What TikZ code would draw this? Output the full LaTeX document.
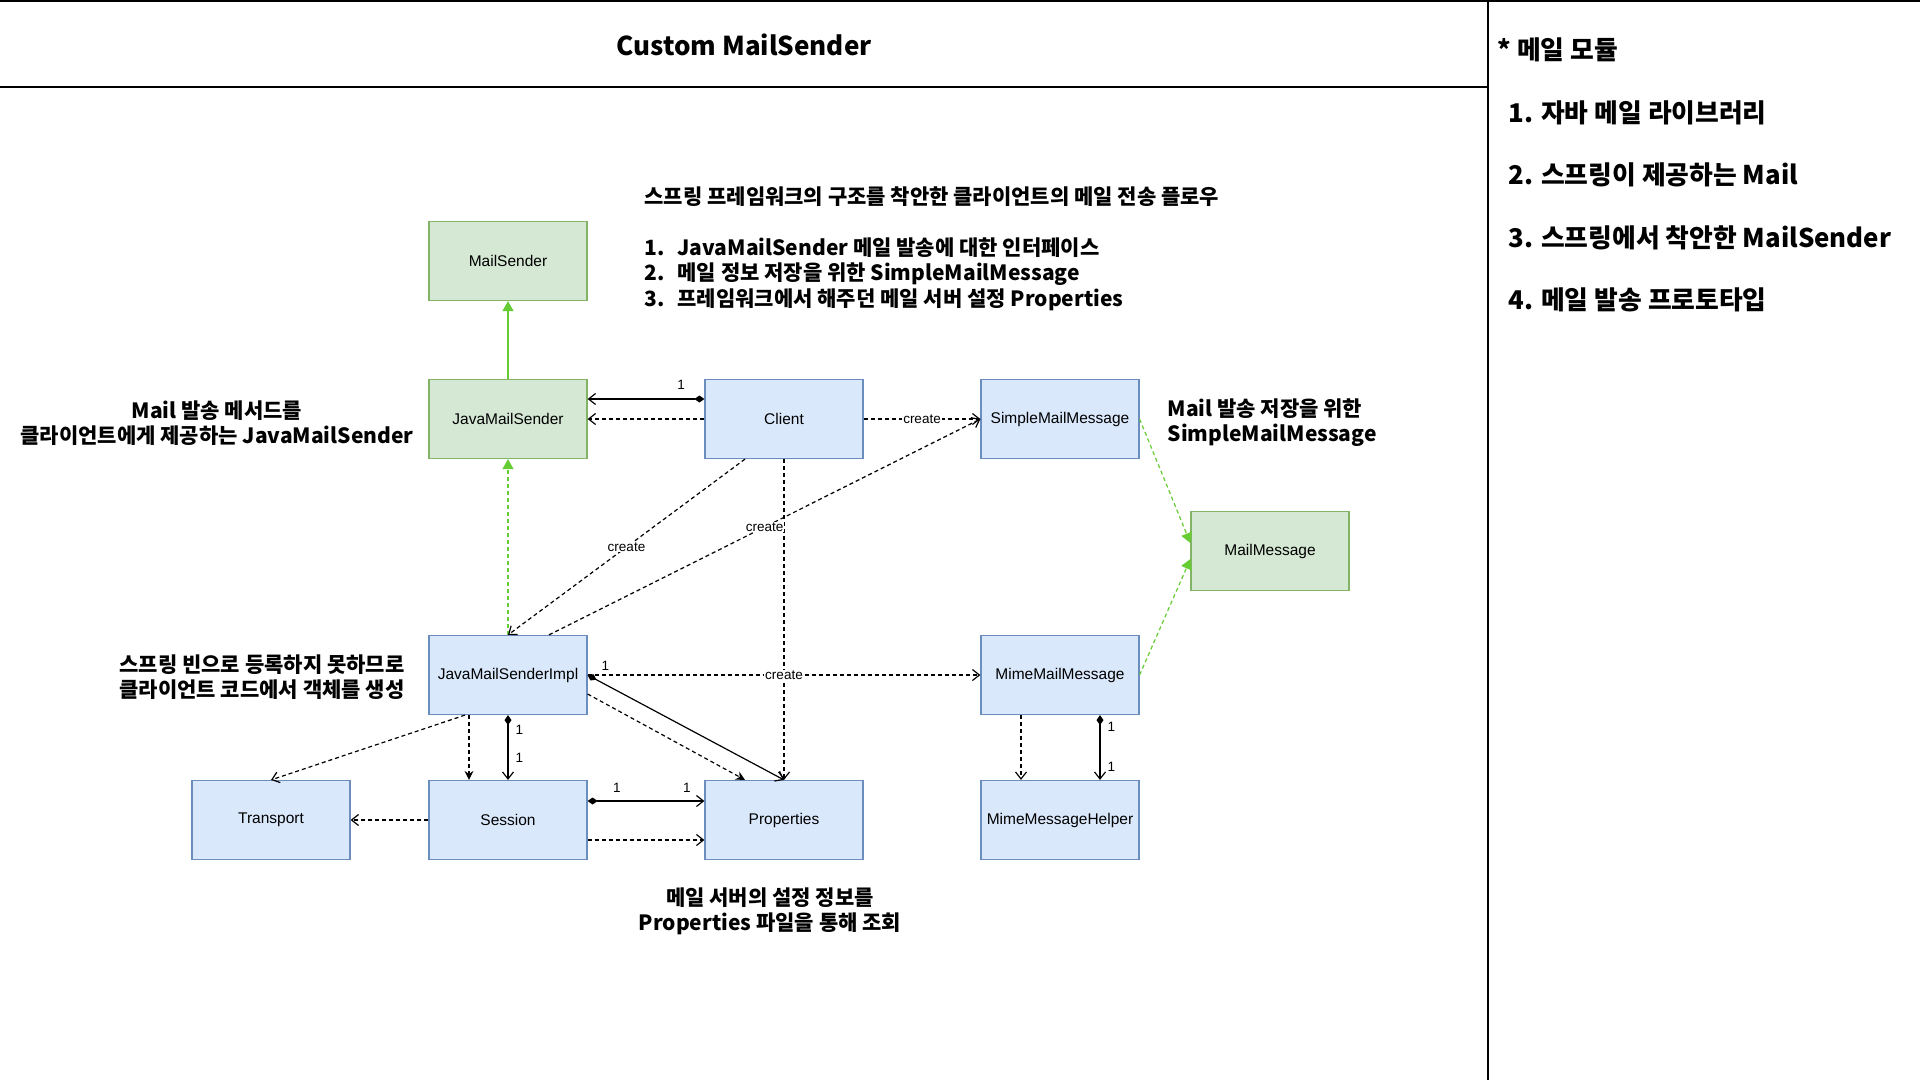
\documentclass[tikz,border=0pt]{standalone}
\usepackage{fontspec}
\setmainfont{Liberation Sans}
\newfontfamily\kofont{Noto Sans CJK KR}
\usepackage{tikz}
\usetikzlibrary{arrows.meta,positioning}

\definecolor{blueFill}{HTML}{DAE8FC}
\definecolor{blueLine}{HTML}{6C8EBF}
\definecolor{greenFill}{HTML}{D5E8D4}
\definecolor{greenLine}{HTML}{82B366}
\definecolor{realize}{HTML}{66CC33}

\begin{document}
\begin{tikzpicture}[x=1pt,y=-1pt,line width=1.2pt,
  cls/.style={minimum width=158pt,minimum height=79pt,inner sep=0pt,line width=1.2pt,
    font=\fontsize{15.5}{18}\selectfont},
  blue cls/.style={cls,fill=blueFill,draw=blueLine},
  green cls/.style={cls,fill=greenFill,draw=greenLine},
  note/.style={font=\kofont\bfseries\fontsize{21}{25}\selectfont,align=center,inner sep=0pt},
  panel/.style={font=\kofont\bfseries\fontsize{25.8}{30}\selectfont,anchor=west,inner sep=0pt},
  lbl/.style={font=\fontsize{13.5}{16}\selectfont,inner sep=1pt},
  dep/.style={dash pattern=on 4pt off 3pt,-{Straight Barb[length=7pt,width=11pt]}},
  depfill/.style={dash pattern=on 4pt off 3pt,-{Stealth[length=9pt,width=9pt]}},
  assoc/.style={{Diamond[length=10pt,width=7pt]}-{Straight Barb[length=7pt,width=11pt]}},
  inherit/.style={draw=realize,-{Triangle[length=10pt,width=11pt]}},
  realizes/.style={inherit,dash pattern=on 4pt off 3pt}]

  \useasboundingbox (0,0) rectangle (1920,1080);

  % frame
  \draw[line width=2pt] (0,1) -- (1920,1);
  \draw[line width=1.5pt] (0,87) -- (1488,87);
  \draw[line width=1.5pt] (1488,0) -- (1488,1080);

  \node[font=\kofont\bfseries\fontsize{26}{30}\selectfont] (title) at (744,45) {Custom MailSender};

  % right panel = mail modules
  \node[panel] (modules) at (1497,50) {* 메일 모듈};
  \node[panel] (mod1) at (1508,113) {1. 자바 메일 라이브러리};
  \node[panel] (mod2) at (1508,175) {2. 스프링이 제공하는 Mail};
  \node[panel] (mod3) at (1508,238) {3. 스프링에서 착안한 MailSender};
  \node[panel] (mod4) at (1508,300) {4. 메일 발송 프로토타입};

  % flow description
  \node[note,anchor=west] (flow) at (644,197) {스프링 프레임워크의 구조를 착안한 클라이언트의 메일 전송 플로우};
  \node[note,anchor=west,align=left,font=\kofont\bfseries\fontsize{21}{25.5}\selectfont] (steps) at (644,274)
    {\makebox[33pt][l]{1.}JavaMailSender 메일 발송에 대한 인터페이스\\
     \makebox[33pt][l]{2.}메일 정보 저장을 위한 SimpleMailMessage\\
     \makebox[33pt][l]{3.}프레임워크에서 해주던 메일 서버 설정 Properties};

  % classes
  \node[green cls] (sender) at (508,261) {MailSender};
  \node[green cls] (jms) at (508,419) {JavaMailSender};
  \node[blue cls] (client) at (784,419) {Client};
  \node[blue cls] (smm) at (1060,419) {SimpleMailMessage};
  \node[green cls] (mailmsg) at (1270,551) {MailMessage};
  \node[blue cls] (impl) at (508,675) {JavaMailSenderImpl};
  \node[blue cls] (mmm) at (1060,675) {MimeMailMessage};
  \node[blue cls] (transport) at (271,820) {Transport};
  \node[blue cls] (session) at (508,820) {Session};
  \node[blue cls] (props) at (784,820) {Properties};
  \node[blue cls] (helper) at (1060,820) {MimeMessageHelper};

  % notes
  \node[note] (jmsNote) at (217,423) {Mail 발송 메서드를\\클라이언트에게 제공하는 JavaMailSender};
  \node[note,anchor=west,align=left] (smmNote) at (1167,423) {Mail 발송 저장을 위한\\SimpleMailMessage};
  \node[note] (implNote) at (262,677) {스프링 빈으로 등록하지 못하므로\\클라이언트 코드에서 객체를 생성};
  \node[note] (propsNote) at (770,911) {메일 서버의 설정 정보를\\Properties 파일을 통해 조회};

  % green = inheritance / realization
  \draw[inherit] (jms) -- (sender);
  \draw[realizes] (impl) -- (jms);
  \draw[realizes] (smm.east) -- ([yshift=8pt]mailmsg.west);
  \draw[realizes] (mmm.east) -- ([yshift=-8pt]mailmsg.west);

  % client
  \draw[assoc] ([yshift=20pt]client.west) -- ([yshift=20pt]jms.east)
    node[lbl,pos=0.2,above=8pt] {1};
  \draw[dep] (client) -- (jms);
  \draw[dep] (client) -- (smm) node[lbl,fill=white,midway] {create};
  \draw[dep] ([xshift=-39pt]client.south) -- (impl.north) node[lbl,fill=white,midway] {create};
  \draw[dep] (client) -- (props);

  % JavaMailSenderImpl
  \draw[dep] ([xshift=41pt]impl.north) -- (smm.west) node[lbl,fill=white,midway] {create};
  \draw[dep] (impl) -- (mmm) node[lbl,fill=white,midway] {create}
    node[lbl,pos=0.045,above=3pt] {1};
  \draw[assoc] (impl.east) -- (props.north);
  \draw[depfill] ([yshift=-19pt]impl.east) -- ([xshift=-39pt]props.north);
  \draw[depfill] ([xshift=-39pt]impl.south) -- ([xshift=-39pt]session.north);
  \draw[assoc] (impl) -- (session)
    node[lbl,pos=0.22,right=6pt] {1}
    node[lbl,pos=0.66,right=6pt] {1};
  \draw[dep] ([xshift=-43pt]impl.south) -- (transport.north);

  % Session
  \draw[dep] (session) -- (transport);
  \draw[assoc] ([yshift=19pt]session.east) -- ([yshift=19pt]props.west)
    node[lbl,pos=0.25,above=7pt] {1}
    node[lbl,pos=0.85,above=7pt] {1};
  \draw[dep] ([yshift=-20pt]session.east) -- ([yshift=-20pt]props.west);

  % MimeMailMessage
  \draw[dep] ([xshift=-39pt]mmm.south) -- ([xshift=-39pt]helper.north);
  \draw[assoc] ([xshift=40pt]mmm.south) -- ([xshift=40pt]helper.north)
    node[lbl,pos=0.18,right=6pt] {1}
    node[lbl,pos=0.8,right=6pt] {1};

\end{tikzpicture}
\end{document}
